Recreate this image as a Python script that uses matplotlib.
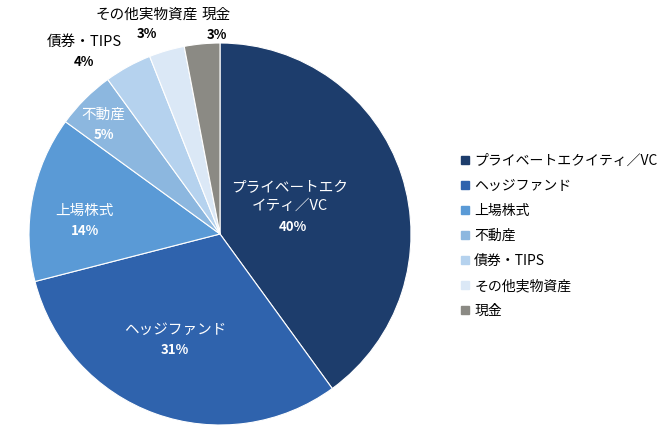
import matplotlib
matplotlib.use("Agg")
import matplotlib.pyplot as plt
import numpy as np
from matplotlib.lines import Line2D

plt.rcParams['font.family'] = ['Noto Sans CJK JP', 'DejaVu Sans']

categories = ['プライベートエクイティ／VC', 'ヘッジファンド', '上場株式', '不動産', '債券・TIPS', 'その他実物資産', '現金']
slice_labels = ['プライベートエク\nイティ／VC', 'ヘッジファンド', '上場株式', '不動産', '債券・TIPS', 'その他実物資産', '現金']
values = [40, 31, 14, 5, 4, 3, 3]
colors = ['#1d3d6c', '#2f63ad', '#5a9ad6', '#8cb7df', '#b5d2ee', '#dbe8f6', '#8b8a84']

fig = plt.figure(figsize=(6.6, 4.38), dpi=100)
ax = fig.add_axes([(220 - 191) / 660, (438 - 234 - 191) / 438, 382 / 660, 382 / 438])
wedges, _ = ax.pie(values, colors=colors, startangle=90, counterclock=False,
                   wedgeprops=dict(edgecolor='white', linewidth=0.8))
ax.set_xlim(-1, 1)
ax.set_ylim(-1, 1)
ax.set_aspect('equal')

# percentage placement (radius, angle offset in degrees), text colour
place = [(0.384, -12.5, 'white'), (0.651, -1.4, 'white'), (0.707, 9.5, 'white'),
         (0.80, 4.6, 'white'), (1.147, 9.5, 'black'), (1.113, 4.0, 'black'),
         (1.042, -4.4, 'black')]
for w, lab, v, (r, da, c) in zip(wedges, slice_labels, values, place):
    ang = np.deg2rad((w.theta1 + w.theta2) / 2 + da)
    x, y = r * np.cos(ang), r * np.sin(ang)
    ax.text(x, y, f'{v}%', ha='center', va='center', color=c, fontsize=9.5, fontweight='bold')
    dy = 21.6 if '\n' in lab else 14.4
    dx = -2.2 if '\n' in lab else 0
    ax.annotate(lab, (x, y), xytext=(dx, dy), textcoords='offset points',
                ha='center', va='center', color=c, fontsize=10.5, linespacing=1.25,
                annotation_clip=False)

handles = [Line2D([], [], marker='s', linestyle='none', markersize=6, markerfacecolor=col,
                  markeredgecolor=col) for col in colors]
fig.legend(handles, categories, loc='upper left', bbox_to_anchor=(452 / 660, 1 - 148 / 438),
           frameon=False, fontsize=10, labelspacing=0.8, handletextpad=0.2,
           handlelength=1.0, borderaxespad=0)

fig.savefig('out.png', dpi=100)
